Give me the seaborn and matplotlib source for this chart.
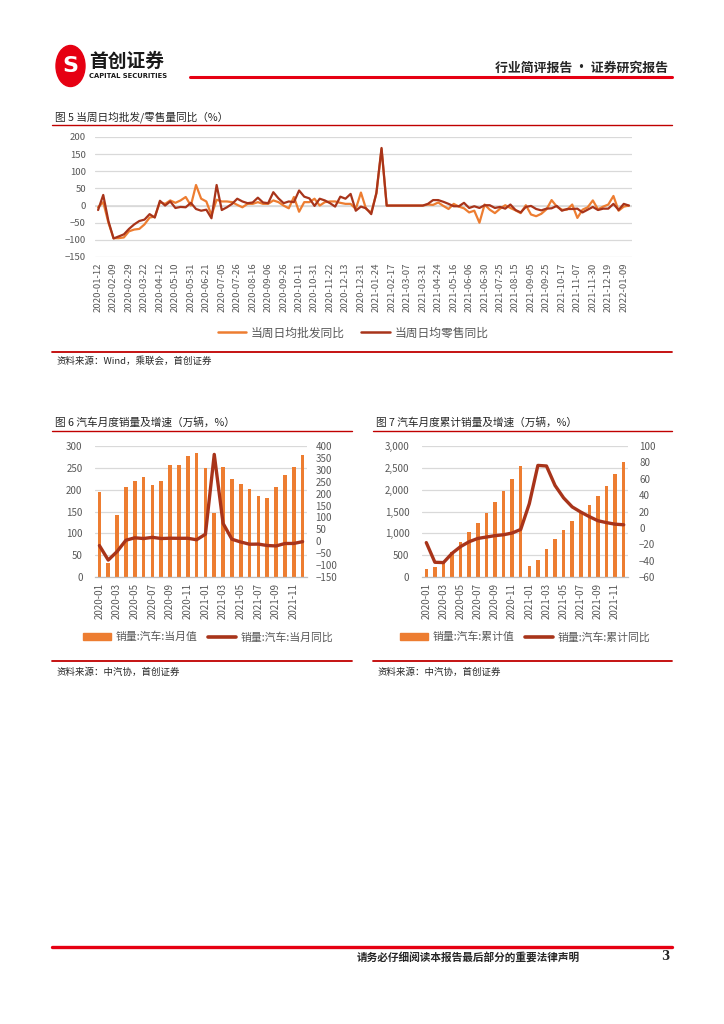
import numpy as np
import pandas as pd
import matplotlib
matplotlib.use("Agg")
import matplotlib.pyplot as plt
import seaborn as sns
from matplotlib.patches import Patch, Circle
from matplotlib.lines import Line2D
from matplotlib.ticker import FuncFormatter

# === Data: weekly wholesale / retail YoY (%) ===
week_labels = ["2020-01-12", "2020-02-09", "2020-02-29", "2020-03-22", "2020-04-12", "2020-05-10",
               "2020-05-31", "2020-06-21", "2020-07-05", "2020-07-26", "2020-08-16", "2020-09-06",
               "2020-09-26", "2020-10-11", "2020-10-31", "2020-11-22", "2020-12-13", "2020-12-31",
               "2021-01-24", "2021-02-17", "2021-03-07", "2021-03-31", "2021-04-24", "2021-05-16",
               "2021-06-06", "2021-06-30", "2021-07-25", "2021-08-15", "2021-09-05", "2021-09-25",
               "2021-10-17", "2021-11-07", "2021-11-30", "2021-12-19", "2022-01-09"]

wholesale_yoy = [-5, 10, -50, -95, -95, -93, -75, -70, -68, -55,
                 -35, -32, 10, 5, 15, 8, 15, 25, 0, 60,
                 20, 12, -28, 17, 12, 12, 10, 2, -5, 5,
                 5, 10, 5, 5, 15, 10, 0, -8, 25, -18,
                 10, 10, 20, 0, 10, 12, 12, 8, 5, 5,
                 -10, 38, -10, -20, 35, 165, 0, 0, 0, 0,
                 0, 0, 0, 0, 3, 2, 9, -1, -10, 5,
                 -3, -8, -20, -15, -50, 3, -12, -22, -9, 1,
                 -7, -14, -22, 1, -26, -31, -24, -11, 16, -3,
                 -12, -12, 3, -36, -12, -5, 15, -11, -3, 3,
                 28, -15, -3, 0]

retail_yoy = [-13, 31, -45, -96, -90, -84, -68, -55, -45, -41,
              -25, -35, 14, 0, 12, -7, -4, -5, 8, -10,
              -15, -12, -37, 60, -13, -5, 5, 20, 12, 7,
              9, 23, 9, 7, 39, 21, 7, 12, 10, 44,
              26, 21, -1, 20, 15, 7, -3, 26, 20, 34,
              -15, -3, -8, -25, 37, 168, 0, 0, 0, 0,
              0, 0, 0, 0, 5, 16, 16, 11, 5, -2,
              -2, 8, -7, -2, -7, 1, 1, -7, -4, -9,
              3, -13, -20, -4, -1, -10, -14, -9, -8, -1,
              -15, -10, -10, -9, -20, -12, -4, -13, -9, -9,
              5, -13, 5, 0]

# === Data: monthly car sales (10k units) ===
months = ["2020-01", "2020-02", "2020-03", "2020-04", "2020-05", "2020-06", "2020-07", "2020-08",
          "2020-09", "2020-10", "2020-11", "2020-12", "2021-01", "2021-02", "2021-03", "2021-04",
          "2021-05", "2021-06", "2021-07", "2021-08", "2021-09", "2021-10", "2021-11", "2021-12"]
monthly_sales = [194, 31, 143, 207, 219, 230, 211, 219, 257, 257, 277, 283,
                 250, 146, 253, 225, 213, 202, 186, 180, 207, 233, 252, 279]
monthly_yoy = [-18, -79, -43, 4.4, 14.5, 11.6, 16.4, 11.6, 12.8, 12.5, 12.6, 6.4,
               29.5, 364.8, 74.9, 8.6, -3.1, -12.4, -11.9, -17.8, -19.6, -9.4, -9.1, -1.6]
cum_sales = [194, 225, 368, 576, 795, 1025, 1236, 1455, 1712, 1970, 2247, 2531,
             250, 395, 649, 874, 1087, 1289, 1475, 1655, 1862, 2095, 2348, 2628]
cum_yoy = [-18, -42, -42.4, -31.1, -22.8, -16.9, -12.9, -11.2, -9.5, -8.4, -6.3, -1.9,
           29.5, 76.3, 75.6, 51.8, 36.6, 25.6, 19.3, 13.7, 8.7, 6.4, 4.5, 3.8]

ORANGE = "#ED7D31"
DARK = "#A8341A"
RED = "#C00000"
GRID = "#D9D9D9"
TXT = "#595959"

sns.set_theme(style="white")
plt.rcParams["font.family"] = ["Noto Sans CJK SC", "DejaVu Sans"]

W, H = 724, 1024
fig = plt.figure(figsize=(W / 100, H / 100), dpi=100)


def box(l, t, r, b):
    return [l / W, 1 - b / H, (r - l) / W, (b - t) / H]


def hline(y, x0, x1, lw, color=RED):
    fig.add_artist(Line2D([x0 / W, x1 / W], [1 - y / H, 1 - y / H], lw=lw, color=color))


def text(x, y, s, **kw):
    fig.text(x / W, 1 - y / H, s, **kw)


def clean(ax):
    for s in ax.spines.values():
        s.set_visible(False)
    ax.set_xlabel("")
    ax.set_ylabel("")


# === Header ===
fig.add_artist(Circle((70.5 / W, 1 - 66 / H), 14.5 / W, transform=fig.transFigure,
                      color="#E60012"))
text(70.5, 66.5, "S", fontsize=16, color="white", fontweight="bold", ha="center", va="center",
     family="DejaVu Sans")
text(89, 61, "首创证券", fontsize=13.5, fontweight="bold", ha="left", va="center", color="#1a1a1a")
text(89, 76, "CAPITAL SECURITIES", fontsize=4.9, fontweight="bold", ha="left", va="center",
     family="DejaVu Sans", color="#1a1a1a")
hline(76.5, 190, 672, 2.2, "#E60012")
text(668, 68, "行业简评报告 · 证券研究报告", fontsize=9.3, fontweight="bold", ha="right", va="center")

# === Figure 5: weekly YoY ===
text(55, 117, "图 5 当周日均批发/零售量同比（%）", fontsize=7.7, ha="left", va="center")
hline(124.5, 52, 672, 1.0)

df5 = pd.DataFrame({"idx": np.arange(len(retail_yoy)), "wholesale": wholesale_yoy,
                    "retail": retail_yoy})
ax5 = fig.add_axes(box(95, 137, 632, 257))
sns.lineplot(data=df5, x="idx", y="wholesale", color=ORANGE, lw=1.6, ax=ax5)
sns.lineplot(data=df5, x="idx", y="retail", color=DARK, lw=1.6, ax=ax5)
ax5.set_xlim(-0.6, len(retail_yoy) - 0.4)
ax5.set_ylim(-150, 200)
ax5.set_yticks(range(-150, 201, 50))
ax5.yaxis.grid(True, color=GRID, lw=0.9)
ax5.axhline(0, color=GRID, lw=1.2, zorder=0)
ax5.set_axisbelow(True)
ax5.set_xticks(range(0, len(retail_yoy), 3))
ax5.set_xticklabels(week_labels, rotation=90)
ax5.tick_params(length=0, labelsize=6.9, colors=TXT)
ax5.tick_params(axis="y", pad=6.5)
ax5.tick_params(axis="x", pad=4)
clean(ax5)
fig.legend(handles=[Line2D([], [], color=ORANGE, lw=1.8), Line2D([], [], color=DARK, lw=1.8)],
           labels=["当周日均批发同比", "当周日均零售同比"], loc="center",
           bbox_to_anchor=(353 / W, 1 - 333 / H), ncol=2, frameon=False, fontsize=8.5,
           handlelength=2.4, columnspacing=1.4, handletextpad=0.4, labelcolor=TXT)
hline(352, 52, 672, 1.3)
text(57, 361, "资料来源：Wind，乘联会，首创证券", fontsize=6.8, ha="left", va="center",
     style="italic")


def month_axes(ax, axr):
    ax.set_xlim(-0.5, len(months) - 0.5)
    ax.set_xticks(range(0, len(months), 2))
    ax.set_xticklabels(months[::2], rotation=90)
    ax.set_xticks(np.arange(-0.5, len(months), 2), minor=True)
    ax.tick_params(axis="x", which="major", length=0, labelsize=7, colors=TXT, pad=4)
    ax.tick_params(axis="x", which="minor", length=3, color="#BFBFBF", width=0.8, direction="out")
    ax.tick_params(axis="y", length=0, labelsize=7, colors=TXT, pad=9)
    axr.tick_params(axis="y", length=0, labelsize=7, colors=TXT)
    ax.yaxis.grid(True, color=GRID, lw=0.9)
    ax.set_axisbelow(True)
    clean(ax)
    clean(axr)
    ax.spines["bottom"].set_visible(True)
    ax.spines["bottom"].set_color("#BFBFBF")
    ax.spines["bottom"].set_linewidth(0.9)


# === Figure 6: monthly sales ===
text(55, 422, "图 6 汽车月度销量及增速（万辆，%）", fontsize=7.7, ha="left", va="center")
hline(430.5, 52, 352, 1.0)
ax6 = fig.add_axes(box(95, 446, 307, 577))
sns.barplot(x=months, y=monthly_sales, color=ORANGE, width=0.4, saturation=1, linewidth=0,
            ax=ax6)
ax6.set_ylim(0, 300)
ax6.set_yticks(range(0, 301, 50))
ax6r = ax6.twinx()
sns.lineplot(x=np.arange(len(months)), y=monthly_yoy, color=DARK, lw=2.4, ax=ax6r)
ax6r.set_ylim(-150, 400)
ax6r.set_yticks(range(-150, 401, 50))
month_axes(ax6, ax6r)
ax6r.tick_params(axis="y", pad=6)
fig.legend(handles=[Patch(color=ORANGE), Line2D([], [], color=DARK, lw=2.6)],
           labels=["销量:汽车:当月值", "销量:汽车:当月同比"], loc="center",
           bbox_to_anchor=(208 / W, 1 - 637 / H), ncol=2, frameon=False, fontsize=7.8,
           handlelength=2.6, handleheight=0.55, columnspacing=1.0, handletextpad=0.4,
           labelcolor=TXT)
hline(660.5, 52, 352, 1.3)
text(57, 672, "资料来源：中汽协，首创证券", fontsize=6.8, ha="left", va="center", style="italic")

# === Figure 7: cumulative sales ===
text(376, 422, "图 7 汽车月度累计销量及增速（万辆，%）", fontsize=7.7, ha="left", va="center")
hline(430.5, 373, 672, 1.0)
ax7 = fig.add_axes(box(422, 446, 628, 577))
sns.barplot(x=months, y=cum_sales, color=ORANGE, width=0.4, saturation=1, linewidth=0, ax=ax7)
ax7.set_ylim(0, 3000)
ax7.set_yticks(range(0, 3001, 500))
ax7.yaxis.set_major_formatter(FuncFormatter(lambda v, p: f"{int(v):,}"))
ax7r = ax7.twinx()
sns.lineplot(x=np.arange(len(months)), y=cum_yoy, color=DARK, lw=2.4, ax=ax7r)
ax7r.set_ylim(-60, 100)
ax7r.set_yticks(range(-60, 101, 20))
month_axes(ax7, ax7r)
ax7r.tick_params(axis="y", pad=8)
fig.legend(handles=[Patch(color=ORANGE), Line2D([], [], color=DARK, lw=2.6)],
           labels=["销量:汽车:累计值", "销量:汽车:累计同比"], loc="center",
           bbox_to_anchor=(525 / W, 1 - 637 / H), ncol=2, frameon=False, fontsize=7.8,
           handlelength=2.6, handleheight=0.55, columnspacing=1.0, handletextpad=0.4,
           labelcolor=TXT)
hline(660.5, 373, 672, 1.3)
text(377, 672, "资料来源：中汽协，首创证券", fontsize=6.8, ha="left", va="center", style="italic")

# === Footer ===
hline(946.5, 52, 672, 2.4, "#E60012")
text(468, 957, "请务必仔细阅读本报告最后部分的重要法律声明", fontsize=7.7, fontweight="bold",
     ha="center", va="center")
text(669, 957, "3", fontsize=8.5, fontweight="bold", ha="right", va="center", family="DejaVu Serif")

fig.savefig("out.png", dpi=100)
